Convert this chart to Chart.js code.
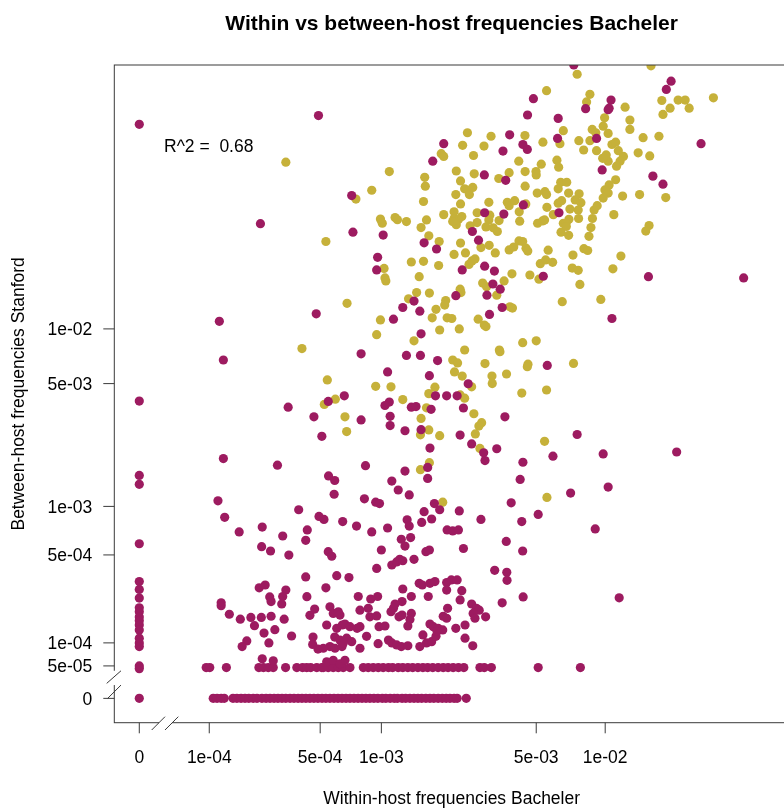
<!DOCTYPE html>
<html>
<head>
<meta charset="utf-8">
<script src="https://cdn.jsdelivr.net/npm/chart.js@4.4.1/dist/chart.umd.min.js"></script>
<style>
html, body { margin: 0; padding: 0; background: #fff; overflow: hidden; }
#wrap { width: 800px; height: 810px; }
</style>
</head>
<body>
<div id="wrap"><canvas id="chart" width="800" height="810"></canvas></div>
<script>
// Within vs between-host frequencies (Bacheler vs Stanford)

// axis ticks
const xTicks = [0, 1e-4, 5e-4, 1e-3, 5e-3, 1e-2];
const xTickLabels = ['0', '1e-04', '5e-04', '1e-03', '5e-03', '1e-02'];
const yTicks = [0, 5e-5, 1e-4, 5e-4, 1e-3, 5e-3, 1e-2];
const yTickLabels = ['0', '5e-05', '1e-04', '5e-04', '1e-03', '5e-03', '1e-02'];

// purple: within-host frequency 0
const zeroColY = [0.13, 4.0e-3, 1.52e-3, 1.35e-3, 5.9e-4, 3.3e-4, 2.9e-4, 2.5e-4, 2.1e-4, 1.95e-4,
    1.76e-4, 1.64e-4, 1.5e-4, 1.35e-4, 1.12e-4, 1.0e-4, 9.1e-5, 5e-5, 4.5e-5, 0];

// purple: between-host frequency 0
const zeroRowX = [1.08e-4, 1.16e-4, 1.25e-4, 1.32e-4, 1.53e-4, 1.63e-4, 1.74e-4, 1.85e-4, 1.96e-4, 2.09e-4,
    2.21e-4, 2.37e-4, 2.51e-4, 2.65e-4, 2.80e-4, 2.95e-4, 3.11e-4, 3.27e-4, 3.45e-4, 3.63e-4, 3.82e-4,
    4.01e-4, 4.21e-4, 4.42e-4, 4.64e-4, 4.87e-4, 5.11e-4, 5.35e-4, 5.61e-4, 5.88e-4, 6.16e-4, 6.45e-4,
    6.75e-4, 7.06e-4, 7.39e-4, 7.73e-4, 8.08e-4, 8.44e-4, 8.82e-4, 9.22e-4, 9.63e-4, 1.01e-3, 1.05e-3,
    1.10e-3, 1.15e-3, 1.19e-3, 1.25e-3, 1.30e-3, 1.36e-3, 1.42e-3, 1.48e-3, 1.54e-3, 1.61e-3, 1.68e-3,
    1.75e-3, 1.83e-3, 1.91e-3, 1.99e-3, 2.07e-3, 2.16e-3, 2.23e-3, 2.45e-3];

// purple: lowest non-zero between-host frequency
const lowRowY = 4.7e-5;
const lowRowX = [9.4e-5, 1.01e-4, 1.37e-4, 2.27e-4, 2.42e-4, 2.59e-4, 2.77e-4, 3.26e-4, 3.76e-4, 4.04e-4,
    4.25e-4, 4.46e-4, 4.80e-4, 5.10e-4, 5.19e-4, 5.50e-4, 5.83e-4, 6.18e-4, 6.54e-4, 7.06e-4, 8.20e-4,
    8.66e-4, 9.15e-4, 9.67e-4, 1.02e-3, 1.08e-3, 1.13e-3, 1.20e-3, 1.26e-3, 1.33e-3, 1.40e-3, 1.48e-3,
    1.56e-3, 1.64e-3, 1.73e-3, 1.83e-3, 1.93e-3, 2.03e-3, 2.14e-3, 2.26e-3, 2.39e-3, 2.82e-3, 2.95e-3,
    3.17e-3, 5.1e-3, 7.8e-3];

// purple: other sites [within, between]
const purplePts = [
    [4.9e-4,0.145],[2.32e-4,3.75e-2],
    [4.86e-3,0.179],[4.58e-3,0.146],[6.24e-3,0.140],[3.82e-3,0.114],[6.2e-3,0.109],[1.94e-3,0.102],[4.37e-3,0.101],
    [4.57e-3,9.5e-2],[3.57e-3,9.3e-2],[1.73e-3,8.2e-2],[2.95e-3,6.9e-2],[3.67e-3,6.45e-2],[7.2e-4,5.33e-2],
    [4.39e-3,4.74e-2],[6.29e-3,4.3e-2],[2.96e-3,4.3e-2],[3.6e-3,4.23e-2],[2.61e-3,3.4e-2],[7.3e-4,3.37e-2],
    [1.02e-3,3.25e-2],[1.58e-3,2.95e-2],[1.8e-3,2.73e-2],[2.78e-3,3.05e-2],[9.6e-4,2.46e-2],[9.5e-4,2.1e-2],
    [2.35e-3,2.1e-2],[2.96e-3,2.2e-2],[3.27e-3,2.07e-2],[3.22e-3,1.76e-2],[5.37e-3,1.94e-2],
    [7.3e-3,0.273],[1.93e-2,0.223],[1.84e-2,0.201],[1.06e-2,0.176],[8.22e-3,0.158],[1.04e-2,0.159],[1.03e-2,0.156],
    [9.17e-3,0.109],[2.6e-2,0.102],[9.7e-3,7.35e-2],[1.61e-2,6.8e-2],[1.78e-2,6.15e-2],[1.54e-2,1.93e-2],[3.97e-2,1.9e-2],
    [4.77e-4,1.21e-2],[1.21e-4,1.1e-2],[1.3e-4,6.75e-3],[5.5e-4,3.98e-3],[6.62e-4,4.28e-3],[3.37e-4,3.7e-3],
    [4.64e-4,3.27e-3],[5.1e-4,2.54e-3],[1.3e-4,1.9e-3],[2.93e-4,1.74e-3],[5.52e-4,1.51e-3],[5.93e-4,1.42e-3],
    [5.89e-4,1.18e-3],[1.18e-4,1.08e-3],
    [3.47e-3,1.65e-2],[3.03e-3,1.53e-2],[2.2e-3,1.52e-2],[1.42e-3,1.42e-2],[1.26e-3,1.31e-2],[1.51e-3,1.25e-2],
    [1.14e-3,1.13e-2],[3.54e-3,1.31e-2],[3.11e-3,1.2e-2],[1.53e-3,9.4e-3],[8.0e-4,7.3e-3],[1.31e-3,7.15e-3],
    [1.52e-3,7.15e-3],[1.82e-3,6.7e-3],[5.59e-3,6.3e-3],[1.07e-3,5.8e-3],[1.67e-3,5.53e-3],[2.5e-3,4.99e-3],
    [1.78e-3,4.28e-3],[2.0e-3,4.28e-3],[2.23e-3,4.28e-3],[1.09e-3,3.95e-3],[1.04e-3,3.78e-3],[1.38e-3,3.7e-3],
    [1.45e-3,3.73e-3],[1.7e-3,3.6e-3],[2.38e-3,3.66e-3],[1.1e-3,3.29e-3],[8.0e-4,3.14e-3],[3.64e-3,3.27e-3],
    [1.1e-3,2.92e-3],[1.29e-3,2.73e-3],[1.53e-3,2.77e-3],[2.3e-3,2.58e-3],[2.59e-3,2.3e-3],[3.35e-3,2.16e-3],
    [1.68e-3,2.18e-3],[2.93e-3,2.05e-3],[2.97e-3,1.85e-3],[5.92e-3,1.96e-3],[4.37e-3,1.81e-3],[8.4e-4,1.73e-3],
    [1.64e-3,1.69e-3],[1.29e-3,1.61e-3],[1.64e-3,1.46e-3],[1.12e-3,1.41e-3],[4.25e-3,1.44e-3],[1.2e-3,1.25e-3],
    [1.35e-3,1.17e-3],[8.3e-4,1.11e-3],[9.4e-4,1.06e-3],[9.8e-4,1.04e-3],[1.76e-3,1.04e-3],[3.88e-3,1.05e-3],
    [1.07e-2,1.14e-2],[7.55e-3,2.6e-3],[9.8e-3,2.02e-3],[2.04e-2,2.07e-3],[7.07e-3,1.2e-3],[1.03e-2,1.3e-3],
    [1.33e-4,8.6e-4],[1.69e-4,7.0e-4],[2.38e-4,7.5e-4],[3.14e-4,6.6e-4],[3.85e-4,9.55e-4],[4.93e-4,8.7e-4],
    [5.23e-4,8.35e-4],[4.28e-4,7.2e-4],[4.2e-4,6.2e-4],[2.36e-4,5.65e-4],[2.67e-4,5.3e-4],[3.4e-4,4.99e-4],
    [4.2e-4,3.56e-4],[2.28e-4,2.98e-4],[2.48e-4,3.12e-4],[3.27e-4,2.87e-4],[3.14e-4,2.57e-4],[3.1e-4,2.25e-4],
    [2.64e-4,2.55e-4],[2.69e-4,2.35e-4],[4.26e-4,2.56e-4],[4.68e-4,2.05e-4],[4.42e-4,1.82e-4],[1.25e-4,2.3e-4],
    [1.25e-4,2.18e-4],[1.44e-4,1.86e-4],[1.72e-4,1.69e-4],[2.02e-4,1.75e-4],[2.35e-4,1.75e-4],[2.69e-4,1.79e-4],
    [3.2e-4,1.69e-4],[2.13e-4,1.48e-4],[2.44e-4,1.26e-4],[2.83e-4,1.36e-4],[3.52e-4,1.18e-4],[1.9e-4,1.05e-4],
    [1.77e-4,9.1e-5],[2.61e-4,1.0e-4],[4.59e-4,1.15e-4],[4.57e-4,9.6e-5],[4.87e-4,8.5e-5],[2.38e-4,6.4e-5],
    [2.77e-4,6.0e-5],
    [1.86e-3,9.55e-4],[2.28e-3,9.4e-4],[1.58e-3,9.3e-4],[1.54e-3,8.0e-4],[1.71e-3,8.4e-4],[1.32e-3,8.3e-4],
    [1.35e-3,7.6e-4],[1.37e-3,6.45e-4],[1.24e-3,6.3e-4],[1.29e-3,5.7e-4],[2.85e-3,8.35e-4],[2.01e-3,7.2e-4],
    [2.13e-3,7.1e-4],[2.26e-3,7.2e-4],[2.38e-3,5.5e-4],[6.5e-4,8.1e-4],[7.6e-4,7.6e-4],[9.0e-4,7.0e-4],
    [1.07e-3,7.4e-4],[1.0e-3,5.38e-4],[5.5e-4,5.25e-4],[5.73e-4,4.9e-4],[9.5e-4,4.07e-4],[1.12e-3,4.29e-4],
    [1.18e-3,4.5e-4],[1.22e-3,4.68e-4],[1.26e-3,4.58e-4],[1.42e-3,4.68e-4],[1.61e-3,5.25e-4],[1.67e-3,5.38e-4],
    [6.07e-4,3.63e-4],[6.98e-4,3.52e-4],[5.35e-4,2.98e-4],[1.5e-3,3.21e-4],[1.55e-3,3.12e-4],[1.68e-3,3.21e-4],
    [1.77e-3,3.3e-4],[2.0e-3,3.25e-4],[2.1e-3,3.39e-4],[2.23e-3,3.39e-4],[2.0e-3,2.87e-4],[1.26e-3,2.92e-4],
    [2.34e-3,2.84e-4],[1.65e-3,2.57e-4],[1.38e-3,2.57e-4],[9.6e-4,2.57e-4],[8.9e-4,2.46e-4],[7.75e-4,2.57e-4],
    [1.25e-3,2.35e-4],[1.16e-3,2.25e-4],[1.14e-3,2.08e-4],[2.3e-3,2.42e-4],[2.59e-3,2.25e-4],[2.72e-3,2.08e-4],
    [2.8e-3,2.01e-4],[2.02e-3,2.08e-4],[5.61e-4,2.14e-4],[5.83e-4,1.89e-4],[6.18e-4,1.95e-4],[6.3e-4,1.83e-4],
    [7.9e-4,2.01e-4],[8.66e-4,2.08e-4],[8.82e-4,1.77e-4],[9.5e-4,1.8e-4],[1.11e-3,1.95e-4],[1.21e-3,1.77e-4],
    [1.25e-3,1.83e-4],[1.38e-3,1.89e-4],[1.36e-3,1.68e-4],[1.93e-3,1.79e-4],[2.0e-3,1.72e-4],[2.63e-3,1.89e-4],
    [2.68e-3,1.72e-4],[2.99e-3,1.77e-4],[5.4e-4,1.5e-4],[6.07e-4,1.4e-4],[6.47e-4,1.5e-4],[6.67e-4,1.53e-4],
    [7.06e-4,1.45e-4],[7.65e-4,1.4e-4],[7.9e-4,1.45e-4],[9.75e-4,1.45e-4],[1.04e-3,1.47e-4],[1.33e-3,1.47e-4],
    [1.68e-3,1.53e-4],[1.74e-3,1.45e-4],[1.83e-3,1.4e-4],[1.92e-3,1.35e-4],[2.2e-3,1.4e-4],[2.42e-3,1.5e-4],
    [5.93e-4,1.15e-4],[6.3e-4,1.07e-4],[6.8e-4,1.12e-4],[7.2e-4,1.03e-4],[8.5e-4,1.17e-4],[1.08e-3,1.07e-4],
    [1.12e-3,1.0e-4],[1.18e-3,9.5e-5],[1.24e-3,9.1e-5],[1.33e-3,9.3e-5],[9.65e-4,9.8e-5],[1.56e-3,1.21e-4],
    [1.62e-3,1.0e-4],[1.71e-3,1.03e-4],[1.79e-3,1.17e-4],[1.81e-3,1.31e-4],[1.51e-3,9.1e-5],[5.61e-4,9.1e-5],
    [5.95e-4,8.7e-5],[6.45e-4,9.1e-5],[6.55e-4,1.0e-4],[5.19e-4,8.7e-5],[7.9e-4,8.7e-5],[2.42e-3,1.12e-4],
    [2.62e-3,9.3e-5],[5.4e-4,5.8e-5],[5.83e-4,6.1e-5],[6.3e-4,5.4e-5],[6.67e-4,6.1e-5],
    [5.1e-3,8.95e-4],[4.32e-3,8.1e-4],[9.05e-3,7.3e-4],[3.69e-3,6.1e-4],[4.36e-3,5.3e-4],[3.28e-3,3.95e-4],
    [3.71e-3,3.83e-4],[3.72e-3,3.37e-4],[4.38e-3,2.55e-4],[3.54e-3,2.3e-4],[1.15e-2,2.51e-4]
];

// gold: sites [within, between]
const goldPts = [
    [3.27e-4,8.1e-2],[5.35e-4,3.0e-2],[5.55e-3,0.198],[2.48e-3,0.117],[3.16e-3,0.112],[4.46e-3,0.113],[6.57e-3,0.120],
    [2.36e-3,0.100],[2.94e-3,9.9e-2],[5.35e-3,0.104],[6.35e-3,0.102],[1.89e-3,9.0e-2],[1.94e-3,8.7e-2],[2.64e-3,8.8e-2],
    [4.19e-3,8.2e-2],[5.26e-3,7.9e-2],[6.16e-3,8.3e-2],[6.27e-3,7.6e-2],[1.09e-3,7.2e-2],[2.21e-3,7.25e-2],[2.66e-3,7.0e-2],
    [2.31e-3,6.4e-2],[3.42e-3,6.6e-2],[3.80e-3,7.1e-2],[4.47e-3,7.2e-2],[4.99e-3,7.2e-2],[5.0e-3,6.9e-2],[6.4e-3,6.3e-2],
    [1.59e-3,6.7e-2],[1.60e-3,6.0e-2],[2.41e-3,5.8e-2],[2.51e-3,5.7e-2],[2.62e-3,5.9e-2],[2.53e-3,5.4e-2],[4.47e-3,6.0e-2],
    [5.05e-3,5.5e-2],[5.46e-3,5.6e-2],[5.55e-3,5.4e-2],[6.24e-3,5.8e-2],[9.0e-4,5.7e-2],[7.55e-4,5.1e-2],[2.20e-3,5.4e-2],
    [1.57e-3,4.95e-2],[2.31e-3,4.8e-2],[3.09e-3,4.9e-2],[3.73e-3,4.9e-2],[3.80e-3,4.7e-2],[4.02e-3,5.0e-2],[4.5e-3,4.8e-2],
    [5.57e-3,4.6e-2],[6.24e-3,4.85e-2],[6.46e-3,5.0e-2],[5.94e-3,4.2e-2],[4.21e-3,4.35e-2],[1.94e-3,4.2e-2],[2.16e-3,4.35e-2],
    [2.16e-3,4.0e-2],[2.26e-3,3.95e-2],[2.34e-3,4.1e-2],[2.21e-3,3.7e-2],[2.13e-3,3.85e-2],[2.74e-3,4.3e-2],[3.12e-3,4.17e-2],
    [3.09e-3,3.93e-2],[3.0e-3,3.6e-2],[3.23e-3,3.56e-2],[3.37e-3,3.4e-2],[3.43e-3,3.9e-2],[2.74e-3,3.8e-2],[2.55e-3,3.65e-2],
    [4.23e-3,3.87e-2],[5.07e-3,3.77e-2],[5.33e-3,3.88e-2],[5.44e-3,3.93e-2],[6.57e-3,3.77e-2],[6.42e-3,3.37e-2],[9.9e-4,3.97e-2],
    [1.01e-3,3.77e-2],[1.16e-3,4.05e-2],[1.19e-3,3.94e-2],[1.31e-3,3.85e-2],[1.62e-3,3.93e-2],[1.53e-3,3.57e-2],[1.66e-3,3.22e-2],
    [1.85e-3,3.0e-2],[2.31e-3,2.94e-2],[2.85e-3,2.78e-2],[3.10e-3,2.86e-2],[3.30e-3,2.6e-2],[3.80e-3,2.7e-2],[3.98e-3,2.8e-2],
    [4.2e-3,3.02e-2],[4.36e-3,3.0e-2],[4.51e-3,2.76e-2],[4.59e-3,2.66e-2],[5.64e-3,2.69e-2],[2.16e-3,2.55e-2],[2.43e-3,2.6e-2],
    [1.03e-3,2.14e-2],[1.04e-3,1.9e-2],[1.05e-3,1.83e-2],[1.38e-3,2.32e-2],[1.57e-3,2.34e-2],[1.84e-3,2.22e-2],[2.52e-3,2.25e-2],
    [2.6e-3,2.35e-2],[2.68e-3,2.41e-2],[5.21e-3,2.27e-2],[5.5e-3,2.38e-2],[5.9e-3,2.31e-2],[1.50e-3,1.93e-2],[2.9e-3,1.78e-2],
    [3.61e-3,1.83e-2],[3.91e-3,2.0e-2],[4.69e-3,1.97e-2],[5.14e-3,1.87e-2],
    [1.58e-2,0.27],[7.55e-3,0.243],[1.76e-2,0.175],[2.07e-2,0.176],[2.22e-2,0.176],[2.31e-2,0.159],[1.91e-2,0.159],
    [1.78e-2,0.147],[2.94e-2,0.181],[8.58e-3,0.189],[8.3e-3,0.172],[1.22e-2,0.161],[9.94e-3,0.141],[1.28e-2,0.137],
    [1.28e-2,0.122],[9.8e-3,0.127],[8.78e-3,0.122],[9.1e-3,0.117],[1.03e-2,0.116],[7.68e-3,0.106],[8.58e-3,0.106],
    [1.46e-2,0.110],[1.71e-2,0.112],[8.06e-3,9.43e-2],[9.17e-3,9.35e-2],[1.07e-2,0.101],[1.11e-2,0.104],[1.14e-2,9.35e-2],
    [1.2e-2,8.7e-2],[1.16e-2,8.2e-2],[1.12e-2,7.7e-2],[1.03e-2,8.2e-2],[9.75e-3,8.5e-2],[1.01e-2,8.86e-2],[1.39e-2,9.1e-2],
    [1.56e-2,8.75e-2],[1.11e-2,6.5e-2],[1.04e-2,6.09e-2],[9.97e-3,5.72e-2],[1.03e-2,5.5e-2],[9.8e-3,5.17e-2],[1.19e-2,5.3e-2],
    [1.41e-2,5.4e-2],[1.83e-2,5.2e-2],[6.8e-3,6.3e-2],[6.93e-3,5.5e-2],[7.7e-3,5.45e-2],[7.4e-3,5.05e-2],[7.84e-3,4.88e-2],
    [7.63e-3,4.45e-2],[7.02e-3,4.5e-2],[8.95e-3,4.45e-2],[9.23e-3,4.7e-2],[1.09e-2,4.2e-2],[8.8e-3,4.0e-2],[6.95e-3,3.96e-2],
    [6.75e-3,3.77e-2],[6.77e-3,3.62e-2],[6.93e-3,3.24e-2],[7.66e-3,4.0e-2],[8.67e-3,3.57e-2],[8.5e-3,3.2e-2],[1.55e-2,3.66e-2],
    [1.5e-2,3.42e-2],[7.24e-3,2.53e-2],[8.08e-3,2.74e-2],[8.39e-3,2.68e-2],[1.17e-2,2.5e-2],[7.19e-3,2.15e-2],[7.63e-3,2.09e-2],
    [1.08e-2,2.13e-2],[7.76e-3,1.75e-2],
    [4.01e-4,7.8e-3],[5.44e-4,5.24e-3],[5.97e-4,4.1e-3],[5.25e-4,3.83e-3],[6.67e-4,3.27e-3],[6.8e-4,2.7e-3],[6.83e-4,1.38e-2],
    [3.02e-3,1.7e-2],[3.35e-3,1.53e-2],[2.3e-3,1.65e-2],[2.32e-3,1.58e-2],[1.46e-3,1.58e-2],[1.67e-3,1.57e-2],[1.34e-3,1.46e-2],
    [1.98e-3,1.43e-2],[1.96e-3,1.35e-2],[1.79e-3,1.28e-2],[2.01e-3,1.15e-2],[2.11e-3,1.14e-2],[1.72e-3,1.15e-2],[9.9e-4,1.12e-2],
    [3.83e-3,1.32e-2],[3.93e-3,1.3e-2],[6.5e-3,1.41e-2],[2.77e-3,1.13e-2],[2.95e-3,1.05e-2],[3.0e-3,1.03e-2],[2.28e-3,1.0e-2],
    [1.86e-3,9.86e-3],[9.5e-4,9.3e-3],[1.42e-3,8.6e-3],[4.36e-3,8.4e-3],[5.0e-3,8.6e-3],[2.41e-3,7.66e-3],[3.44e-3,7.66e-3],
    [3.46e-3,7.5e-3],[2.13e-3,6.75e-3],[2.24e-3,6.5e-3],[2.97e-3,6.45e-3],[4.6e-3,6.4e-3],[4.57e-3,6.2e-3],[2.17e-3,5.8e-3],
    [2.35e-3,5.5e-3],[3.19e-3,5.5e-3],[3.2e-3,5.0e-3],[3.7e-3,5.65e-3],[2.59e-3,4.8e-3],[1.77e-3,4.78e-3],[9.4e-4,4.83e-3],
    [1.11e-3,4.8e-3],[4.32e-3,4.43e-3],[5.55e-3,4.61e-3],[1.66e-3,4.4e-3],[2.3e-3,4.33e-3],[2.41e-3,4.15e-3],[1.26e-3,4.08e-3],
    [1.62e-3,3.67e-3],[2.65e-3,3.4e-3],[1.53e-3,3.2e-3],[2.87e-3,3.03e-3],[2.79e-3,2.9e-3],[1.52e-3,2.59e-3],[1.66e-3,2.76e-3],
    [1.86e-3,2.56e-3],[2.69e-3,2.62e-3],[2.82e-3,2.17e-3],[5.44e-3,2.38e-3],[1.67e-3,1.8e-3],[1.52e-3,1.64e-3],[1.92e-3,1.06e-3],
    [5.57e-3,1.13e-3],[9.57e-3,1.45e-2],[7.28e-3,6.46e-3]
];

const rSquared = '0.68';

const PURPLE = '#9d1b60';
const GOLD = '#c6b13a';
const FONT = '"Liberation Sans", Arial, Helvetica, sans-serif';

// both axes use log10(f + 1e-4) so that zero fits on the log scale
const OFFSET = 1e-4;
function tr(v) { return Math.log10(v + OFFSET); }

const purpleData = []
    .concat(zeroColY.map(y => ({ x: tr(0), y: tr(y) })))
    .concat(zeroRowX.map(x => ({ x: tr(x), y: tr(0) })))
    .concat(lowRowX.map(x => ({ x: tr(x), y: tr(lowRowY) })))
    .concat(purplePts.map(p => ({ x: tr(p[0]), y: tr(p[1]) })));
const goldData = goldPts.map(p => ({ x: tr(p[0]), y: tr(p[1]) }));

// box, axes with breaks, labels
const frame = {
    id: 'frame',
    beforeDraw(chart) {
        const ctx = chart.ctx;
        ctx.save();
        ctx.fillStyle = '#fff';
        ctx.fillRect(0, 0, chart.width, chart.height);
        ctx.restore();
    },
    afterDraw(chart) {
        const ctx = chart.ctx;
        const a = chart.chartArea;
        const xs = chart.scales.x, ys = chart.scales.y;
        const x0 = xs.getPixelForValue(tr(0));
        const y0 = ys.getPixelForValue(tr(0));
        ctx.save();

        ctx.strokeStyle = '#3a3a3a';
        ctx.lineWidth = 1;
        ctx.strokeRect(a.left, a.top, a.right - a.left, a.bottom - a.top);

        // gaps for the axis breaks
        ctx.fillStyle = '#fff';
        ctx.fillRect(a.left - 2, y0 - 27.6, 4, 14.3);
        ctx.fillRect(x0 + 19.7, a.bottom - 2, 13, 4);

        ctx.beginPath();
        xTicks.forEach(v => {
            const px = xs.getPixelForValue(tr(v));
            ctx.moveTo(px, a.bottom);
            ctx.lineTo(px, a.bottom + 10.6);
        });
        yTicks.forEach(v => {
            const py = ys.getPixelForValue(tr(v));
            ctx.moveTo(a.left - 11, py);
            ctx.lineTo(a.left, py);
        });
        // break slashes
        ctx.moveTo(a.left - 7.6, y0 - 15);
        ctx.lineTo(a.left + 6.7, y0 - 27.6);
        ctx.moveTo(a.left - 6.6, y0);
        ctx.lineTo(a.left + 6.7, y0 - 13.3);
        ctx.moveTo(x0 + 12.4, a.bottom + 7.3);
        ctx.lineTo(x0 + 25.7, a.bottom - 6);
        ctx.moveTo(x0 + 25.7, a.bottom + 7.3);
        ctx.lineTo(x0 + 39, a.bottom - 6);
        ctx.stroke();

        ctx.fillStyle = '#000';
        ctx.font = '17.5px ' + FONT;
        ctx.textBaseline = 'alphabetic';
        ctx.textAlign = 'center';
        xTicks.forEach((v, i) => {
            ctx.fillText(xTickLabels[i], xs.getPixelForValue(tr(v)), a.bottom + 40);
        });
        ctx.textAlign = 'right';
        yTicks.forEach((v, i) => {
            ctx.fillText(yTickLabels[i], a.left - 22, ys.getPixelForValue(tr(v)) + 6.3);
        });

        const cx = (a.left + a.right) / 2;
        ctx.textAlign = 'center';
        ctx.fillText('Within-host frequencies Bacheler', cx, 803.5);
        ctx.save();
        ctx.translate(23.5, (a.top + a.bottom) / 2);
        ctx.rotate(-Math.PI / 2);
        ctx.fillText('Between-host frequencies Stanford', 0, 0);
        ctx.restore();

        ctx.textAlign = 'left';
        ctx.fillText('R^2 =  ' + rSquared, 164, 152);

        ctx.font = 'bold 21px ' + FONT;
        ctx.textAlign = 'center';
        ctx.fillText('Within vs between-host frequencies Bacheler', cx, 30);
        ctx.restore();
    }
};

new Chart(document.getElementById('chart'), {
    type: 'scatter',
    data: {
        datasets: [
            { label: 'purple', data: purpleData, backgroundColor: PURPLE, clip: 0 },
            { label: 'gold', data: goldData, backgroundColor: GOLD, clip: 0 }
        ]
    },
    options: {
        responsive: false,
        animation: false,
        devicePixelRatio: 1,
        layout: { padding: { left: 114.3, right: 11, top: 65, bottom: 87.3 } },
        scales: {
            x: { type: 'linear', min: -4.1075, max: -1.205, display: false },
            y: { type: 'linear', min: -4.132, max: -0.564, display: false }
        },
        elements: { point: { radius: 4.6, hoverRadius: 4.6, borderWidth: 0 } },
        plugins: { legend: { display: false }, tooltip: { enabled: false } }
    },
    plugins: [frame]
});
</script>
</body>
</html>
